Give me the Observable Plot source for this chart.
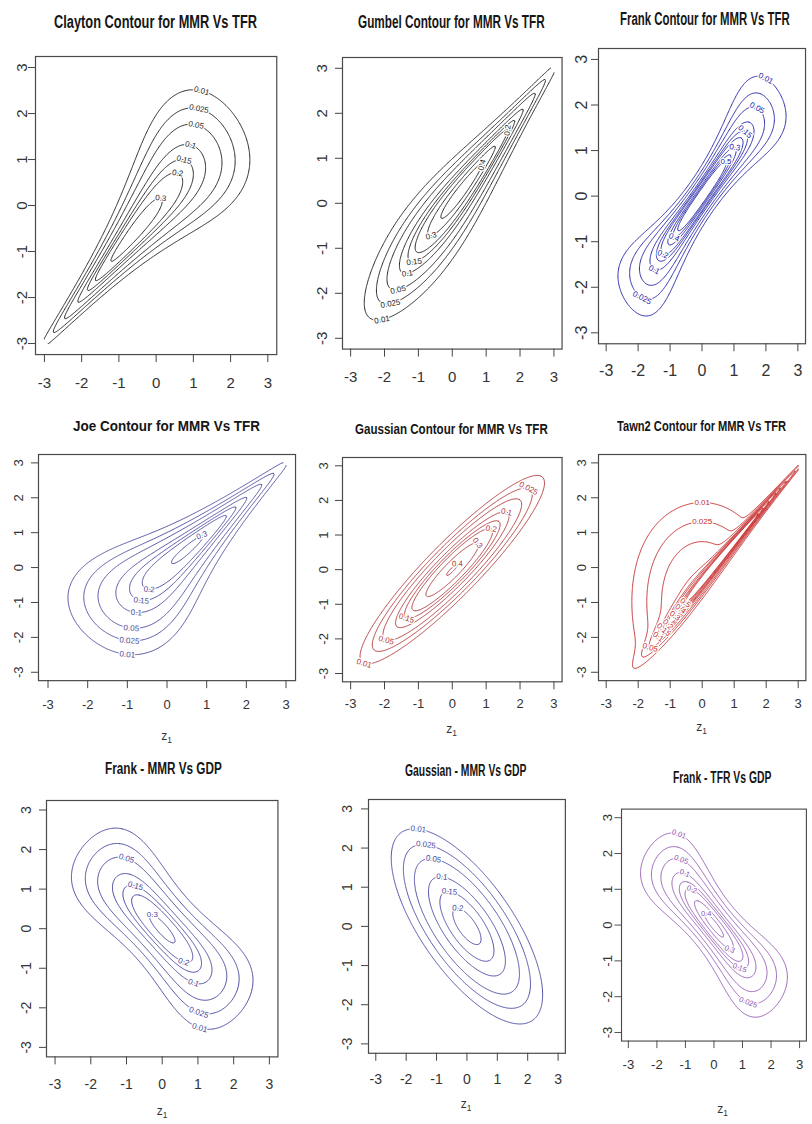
<!DOCTYPE html>
<html><head><meta charset="utf-8">
<script src="https://cdn.jsdelivr.net/npm/d3@7"></script>
<script src="https://cdn.jsdelivr.net/npm/@observablehq/plot@0.6"></script>
<style>
body{margin:0;background:#fff}
#page{position:relative;width:812px;height:1124px;overflow:hidden;background:#fff;font-family:"Liberation Sans",Arial,sans-serif}
.panel{position:absolute}
.title{position:absolute;white-space:nowrap;font-family:"Liberation Sans Narrow","Arial Narrow","Liberation Sans",Arial,sans-serif;font-weight:bold;color:#161616;line-height:1;transform-origin:0 0}
.zlab{position:absolute;white-space:nowrap;color:#333;font-family:"Liberation Sans",Arial,sans-serif;transform:translate(-50%,-50%)}
.zlab sub{font-size:0.7em;vertical-align:-0.25em}
</style></head><body><div id="page"></div>
<script>
// ---------- DATA ----------
const titles = ["Clayton Contour for MMR Vs TFR","Gumbel Contour for MMR Vs TFR","Frank Contour for MMR Vs TFR",
  "Joe Contour for MMR Vs TFR","Gaussian Contour for MMR Vs TFR","Tawn2 Contour for MMR Vs TFR",
  "Frank - MMR Vs GDP","Gaussian - MMR Vs GDP","Frank - TFR Vs GDP"];
const families = ["clayton","gumbel","frank","joe","gaussian","tawn2","frank","gaussian","frank"];
const par1 = [3.5, 4.0, 22, 3.6, 0.92, 12, -8, -0.7, -11];
const par2 = [0, 0, 0, 0, 0, 0.65, 0, 0, 0];
const levels = [0.01, 0.025, 0.05, 0.1, 0.15, 0.2, 0.3, 0.4, 0.5];
const ticks = [-3, -2, -1, 0, 1, 2, 3];
const zName = "z", zSub = "1";
const showZ = [false,false,false,true,true,true,true,true,true];

// ---------- LAYOUT / STYLE ----------
const layout = [
 {x0:44.3,x1:267.7,yt:66.7,yb:342.7,xl:382,yl:22,fs:15,z:null,color:"#1e1e1e",tx:155,ty:21.7,tw:203,tf:18,dirs:{A:{d:[0.2,1]}},pick:"AAAAAAAAA"},
 {x0:350,x1:553.3,yt:67.3,yb:337.3,xl:376,yl:321.7,fs:15,z:null,color:"#1e1e1e",tx:451.7,ty:21.7,tw:186.7,tf:18,dirs:{A:{d:[0.15,-1]},B:{d:[0.7,0.7]},C:{d:[1,-0.3]}},pick:"AAAAABACA"},
 {x0:606,x1:797.7,yt:59.3,yb:332.7,xl:370,yl:581.7,fs:16,z:null,color:"#2222a8",tx:705,ty:19.7,tw:170,tf:17.5,dirs:{A:{d:[0.4,1]},B:{d:[-0.4,-1]}},pick:"ABABABABA"},
 {x0:47.7,x1:285.7,yt:462.3,yb:671.7,xl:704,yl:18.3,fs:13,z:736.7,color:"#4a4a9e",tx:166,ty:425.7,tw:186.7,tf:14.5,dirs:{A:{d:[-0.1,-1]},B:{d:[-0.55,1]}},pick:"AAAAAABBB"},
 {x0:350,x1:553.3,yt:465,yb:672.7,xl:702.7,yl:323.3,fs:13,z:730,color:"#b03838",tx:451.7,ty:429,tw:193,tf:14.5,dirs:{A:{d:[-0.4,-1]},B:{d:[0.4,1]}},pick:"ABABABBBB"},
 {x0:605.7,x1:797.7,yt:462.3,yb:671.7,xl:703.3,yl:581.7,fs:13,z:728.3,color:"#c62a2a",tx:701.7,ty:425.7,tw:168.7,tf:14.5,dirs:{A:{d:[0,1],xmax:0.9},B:{d:[-0.5,-1]}},pick:"AABBBBBBB"},
 {x0:55,x1:269.3,yt:809.3,yb:1046.7,xl:1083.3,yl:26,fs:14,z:1111.7,color:"#45459c",tx:163.3,ty:769.2,tw:116.7,tf:16,dirs:{A:{d:[0.3,1]},B:{d:[-0.3,-1]}},pick:"BBABABAAA"},
 {x0:375,x1:557.3,yt:808.3,yb:1043.3,xl:1078.3,yl:346.7,fs:14,z:1105,color:"#4848a2",tx:465.8,ty:770.8,tw:121.7,tf:16,dirs:{A:{d:[0.1,1]}},pick:"AAAAAAAAA"},
 {x0:631.7,x1:813.7,yt:817.7,yb:1046,xl:1080,yl:610,fs:14,z:1110,color:"#8e52b0",tx:722.5,ty:777.5,tw:98.3,tf:16,dirs:{A:{d:[0.3,1]},B:{d:[-0.3,-1]}},pick:"ABAABABAB"}
];

// ---------- copula densities with N(0,1) margins ----------
function erfc(x){const z=Math.abs(x);const t=1/(1+0.5*z);
 const r=t*Math.exp(-z*z-1.26551223+t*(1.00002368+t*(0.37409196+t*(0.09678418+t*(-0.18628806+t*(0.27886807+t*(-1.13520398+t*(1.48851587+t*(-0.82215223+t*0.17087277)))))))));
 return x>=0?r:2-r;}
const Phi = z => 0.5*erfc(-z/Math.SQRT2);
const N = 241, LO = -3, HI = 3, STEP = (HI-LO)/(N-1);
const zs = d3.range(N).map(i => LO + i*STEP);
const U = zs.map(z => Phi(z)), UB = zs.map(z => Phi(-z));
const PH = zs.map(z => Math.exp(-z*z/2)/Math.sqrt(2*Math.PI));

function evDens(u,ub,v,vb,t,p1,p2){
  const x = u<0.5 ? -Math.log(u) : -Math.log1p(-ub);
  const y = v<0.5 ? -Math.log(v) : -Math.log1p(-vb);
  const S = Math.pow(p1*x,t)+Math.pow(p2*y,t);
  const l = (1-p1)*x + (1-p2)*y + Math.pow(S,1/t);
  const lx = (1-p1) + Math.pow(S,1/t-1)*Math.pow(p1,t)*Math.pow(x,t-1);
  const ly = (1-p2) + Math.pow(S,1/t-1)*Math.pow(p2,t)*Math.pow(y,t-1);
  const lxy = (1-t)*Math.pow(S,1/t-2)*Math.pow(p1*p2,t)*Math.pow(x*y,t-1);
  return Math.exp(-l+x+y)*(lx*ly-lxy);
}
function density(fam,a,b,i,j){
  const u=U[i],ub=UB[i],v=U[j],vb=UB[j];
  let c;
  if (fam==="gaussian"){const x=zs[i],y=zs[j];const q=(x*x-2*a*x*y+y*y)/(1-a*a);return Math.exp(-q/2)/(2*Math.PI*Math.sqrt(1-a*a));}
  if (fam==="clayton"){const lc=Math.log1p(a)+(-1-a)*(Math.log(u)+Math.log(v))+(-2-1/a)*Math.log(Math.pow(u,-a)+Math.pow(v,-a)-1);c=Math.exp(lc);}
  else if (fam==="frank"){const eu=Math.exp(-a*u),ev=Math.exp(-a*v),et=Math.exp(-a);const D=eu+ev-eu*ev-et;c=a*(1-et)*eu*ev/(D*D);}
  else if (fam==="joe"){const A=Math.pow(ub,a),B=Math.pow(vb,a),S=A+B-A*B;c=Math.pow(S,1/a-2)*Math.pow(ub,a-1)*Math.pow(vb,a-1)*(a-1+S);}
  else if (fam==="gumbel"){c=evDens(u,ub,v,vb,a,1,1);}
  else if (fam==="tawn2"){c=evDens(u,ub,v,vb,a,1,b);}
  const g=c*PH[i]*PH[j];
  return isFinite(g)?g:0;
}

function splitRing(ring){
  const pts = ring.slice(0,-1), m = pts.length;
  const onB = p => p[0]===0||p[0]===N||p[1]===0||p[1]===N;
  const bb = k => onB(pts[k]) && onB(pts[(k+1)%m]);
  let start=-1;
  for(let k=0;k<m;k++) if(bb(k)){start=k;break;}
  if(start<0) return [[...pts,pts[0]]];
  const out=[]; let cur=[];
  for(let s=1;s<=m;s++){const k=(start+s)%m;cur.push(pts[k]);if(bb(k)){if(cur.length>1)out.push(cur);cur=[];}}
  if(cur.length>1)out.push(cur);
  return out;
}
const toData = p => [Math.max(LO,Math.min(HI,LO+(p[0]-0.5)*STEP)), Math.max(LO,Math.min(HI,LO+(p[1]-0.5)*STEP))];

const page = document.getElementById("page");
const axisFont = "Liberation Sans, Arial, sans-serif";

families.forEach((fam,k)=>{
  const L = layout[k];
  const kx=(L.x1-L.x0)/6, ky=(L.yb-L.yt)/6;
  const fl=L.x0-0.24*kx, fr=L.x1+0.24*kx, ft=L.yt-0.24*ky, fb=L.yb+0.24*ky;
  const ml=50,mr=6,mt=6,mb=50;
  const W=fr-fl+ml+mr, H=fb-ft+mt+mb;

  const vals=new Array(N*N);
  for(let j=0;j<N;j++)for(let i=0;i<N;i++)vals[i+j*N]=density(fam,par1[k],par2[k],i,j);
  const cs=d3.contours().size([N,N]).thresholds(levels)(vals);

  const rows=[], labs=[]; let id=0;
  cs.forEach((c,li)=>{
    const lines=[];
    c.coordinates.forEach(poly=>poly.forEach(ring=>{
      splitRing(ring).forEach(pl=>{
        const dp=pl.map(toData);
        lines.push(dp);
        dp.forEach(p=>rows.push({x:p[0],y:p[1],id}));
        id++;
      });
    }));
    const ch=L.pick[li];
    if(!ch||ch==="-"||!lines.length) return;
    const dir=L.dirs[ch];
    let best=null,bs=-Infinity;
    lines.forEach(pl=>pl.forEach((p,q)=>{
      if(dir.xmax!==undefined&&p[0]>dir.xmax) return;
      const s=dir.d[0]*p[0]+dir.d[1]*p[1];
      if(s>bs){bs=s;best={pl,q};}
    }));
    if(!best) return;
    const pl=best.pl,q=best.q,n=pl.length;
    const a=pl[Math.max(0,q-3)], b=pl[Math.min(n-1,q+3)];
    let ang=Math.atan2(-(b[1]-a[1])*ky,(b[0]-a[0])*kx)*180/Math.PI;
    if(ang>90)ang-=180; if(ang<-90)ang+=180;
    labs.push({x:pl[q][0],y:pl[q][1],t:String(c.value),a:ang});
  });

  const plot=Plot.plot({
    width:W,height:H,marginLeft:ml,marginRight:mr,marginTop:mt,marginBottom:mb,
    x:{domain:[-3.24,3.24]},y:{domain:[-3.24,3.24]},
    style:{background:"transparent",color:"#333",overflow:"visible"},
    marks:[
      Plot.line(rows,{x:"x",y:"y",z:"id",stroke:L.color,strokeWidth:0.95}),
      Plot.text(labs,{x:"x",y:"y",text:"t",rotate:"a",fill:L.color,stroke:"white",strokeWidth:2.5,paintOrder:"stroke",fontSize:8,fontFamily:"Liberation Sans Narrow, Arial Narrow, sans-serif"}),
      Plot.frame({stroke:"#4a4a4a",strokeWidth:1.2}),
      Plot.axisX(ticks,{tickSize:8,tickPadding:L.xl-fb-8-0.36*L.fs,tickFormat:d=>String(d),fontSize:L.fs,fontFamily:axisFont,label:null,stroke:"#444"}),
      Plot.axisY(ticks,{tickSize:7,tickPadding:fl-7-L.yl,tickRotate:-90,textAnchor:"middle",lineAnchor:"middle",tickFormat:d=>String(d),fontSize:L.fs,fontFamily:axisFont,label:null,stroke:"#444"})
    ]
  });
  const wrap=document.createElement("div");
  wrap.className="panel";
  wrap.style.left=(fl-ml)+"px"; wrap.style.top=(ft-mt)+"px";
  wrap.appendChild(plot);
  page.appendChild(wrap);

  const t=document.createElement("div");
  t.className="title"; t.textContent=titles[k];
  t.style.fontSize=L.tf+"px";
  page.appendChild(t);
  const w=t.offsetWidth, s=L.tw/w;
  t.style.left=(L.tx-L.tw/2)+"px";
  t.style.top=(L.ty-0.489*L.tf)+"px";
  t.style.transform=`scaleX(${s})`;

  if(showZ[k]){
    const z=document.createElement("div");
    z.className="zlab"; z.innerHTML=`${zName}<sub>${zSub}</sub>`;
    z.style.fontSize="12px";
    z.style.left=((L.x0+L.x1)/2)+"px"; z.style.top=L.z+"px";
    page.appendChild(z);
  }
});
</script></body></html>
